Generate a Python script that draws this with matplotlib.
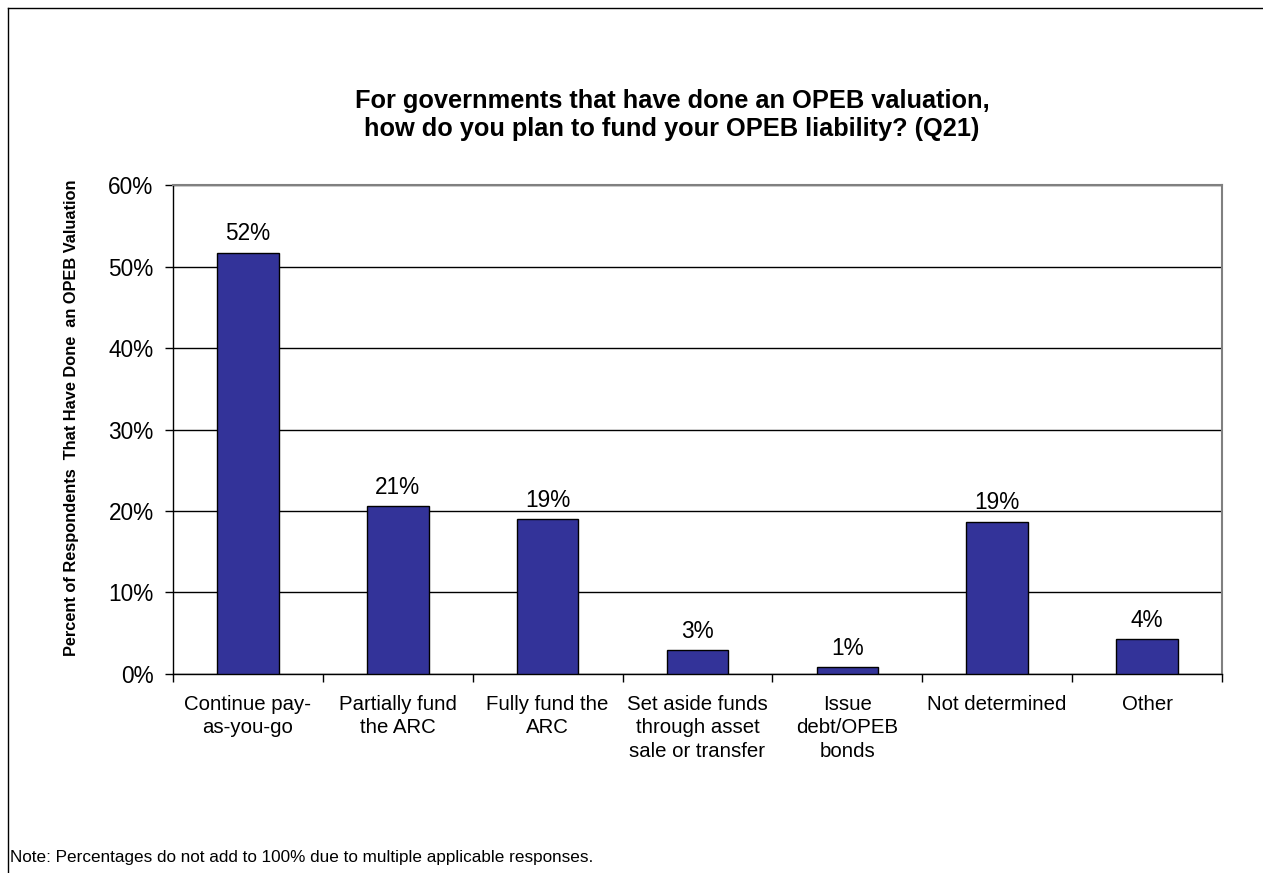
import numpy as np
import matplotlib.pyplot as plt
from matplotlib.ticker import FuncFormatter

plt.rcParams['font.family'] = ['Liberation Sans', 'DejaVu Sans']

categories = [
    'Continue pay-\nas-you-go',
    'Partially fund\nthe ARC',
    'Fully fund the\nARC',
    'Set aside funds\nthrough asset\nsale or transfer',
    'Issue\ndebt/OPEB\nbonds',
    'Not determined',
    'Other',
]
percents = [51.7, 20.6, 19.0, 2.9, 0.8, 18.7, 4.3]

fig = plt.figure(figsize=(12.63, 8.73), dpi=100)
ax = fig.add_axes([0.137, 0.228, 0.8305, 0.56])

x = np.arange(len(categories))
bars = ax.bar(x, percents, width=0.41, color='#333399', edgecolor='black', linewidth=1, zorder=3)

for b, v in zip(bars, percents):
    ax.text(b.get_x() + b.get_width() / 2, v + 0.9, f'{v:.0f}%',
            ha='center', va='bottom', fontsize=16.3)

ax.set_xlim(-0.5, len(categories) - 0.5)
ax.set_ylim(0, 60)
ax.set_yticks(np.arange(0, 61, 10))
ax.yaxis.set_major_formatter(FuncFormatter(lambda v, p: f'{v:.0f}%'))
ax.yaxis.grid(True, color='black', linewidth=1, zorder=0)
ax.tick_params(axis='y', labelsize=16.3, length=6, width=1, direction='out', pad=8)

# ticks sit between categories, labels centred under the bars
ax.set_xticks(np.arange(-0.5, len(categories), 1.0))
ax.set_xticklabels([])
ax.set_xticks(x, minor=True)
ax.set_xticklabels(categories, minor=True, fontsize=14.7, linespacing=1.3)
ax.tick_params(axis='x', which='major', length=6, width=1, direction='out')
ax.tick_params(axis='x', which='minor', length=0, pad=15)
for lbl in ax.get_xticklabels(minor=True):
    lbl.set_verticalalignment('top')

for side in ('top', 'right'):
    ax.spines[side].set_color('#808080')
    ax.spines[side].set_linewidth(1.5)
for side in ('left', 'bottom'):
    ax.spines[side].set_color('black')
    ax.spines[side].set_linewidth(1)

fig.text(0.057, 0.521, 'Percent of Respondents  That Have Done  an OPEB Valuation',
         rotation=90, ha='center', va='center', fontsize=11.8, fontweight='bold')

fig.text(0.532, 0.868, 'For governments that have done an OPEB valuation,\n'
         'how do you plan to fund your OPEB liability? (Q21)',
         ha='center', va='center', fontsize=18.3, fontweight='bold', linespacing=1.2)

fig.text(0.008, 0.009, 'Note: Percentages do not add to 100% due to multiple applicable responses.',
         ha='left', va='bottom', fontsize=12.3)

# outer frame around the chart
fig.add_artist(plt.Line2D([0.0065, 0.0065], [0.0, 0.991], color='black', linewidth=1))
fig.add_artist(plt.Line2D([0.0065, 1.0], [0.991, 0.991], color='black', linewidth=1))

fig.savefig('out.png', dpi=100)
